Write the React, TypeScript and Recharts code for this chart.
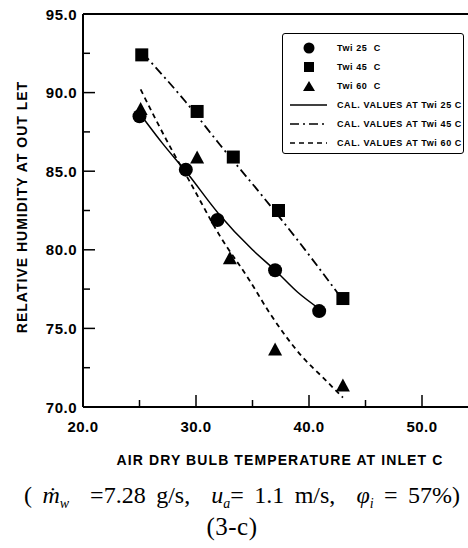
import { ComposedChart, Line, Scatter, XAxis, YAxis, ReferenceLine } from "recharts"

// measured outlet humidity, one array per water inlet temperature
const tw25 = [
  { x: 25.0, y: 88.5 },
  { x: 29.1, y: 85.1 },
  { x: 31.9, y: 81.9 },
  { x: 37.0, y: 78.7 },
  { x: 40.9, y: 76.1 },
]
const tw45 = [
  { x: 25.2, y: 92.4 },
  { x: 30.1, y: 88.8 },
  { x: 33.3, y: 85.9 },
  { x: 37.3, y: 82.5 },
  { x: 43.0, y: 76.9 },
]
const tw60 = [
  { x: 25.1, y: 88.9 },
  { x: 30.1, y: 85.8 },
  { x: 33.0, y: 79.4 },
  { x: 37.0, y: 73.6 },
  { x: 43.0, y: 71.3 },
]

// calculated curves
const cal25 = [
  { x: 25.3, y: 88.4 },
  { x: 27.0, y: 86.8 },
  { x: 29.2, y: 84.9 },
  { x: 32.0, y: 82.3 },
  { x: 35.0, y: 80.0 },
  { x: 37.0, y: 78.7 },
  { x: 39.0, y: 77.3 },
  { x: 41.0, y: 76.2 },
]
const cal45 = [
  { x: 25.3, y: 92.5 },
  { x: 29.1, y: 89.4 },
  { x: 32.1, y: 86.7 },
  { x: 35.9, y: 83.4 },
  { x: 38.9, y: 80.7 },
  { x: 43.0, y: 76.8 },
]
const cal60 = [
  { x: 25.1, y: 90.2 },
  { x: 27.9, y: 86.3 },
  { x: 29.4, y: 84.4 },
  { x: 32.1, y: 80.9 },
  { x: 34.7, y: 78.1 },
  { x: 36.5, y: 76.0 },
  { x: 39.4, y: 73.2 },
  { x: 41.2, y: 71.9 },
  { x: 43.0, y: 70.6 },
]

const xTicks = [20, 25, 30, 35, 40, 45, 50]
const yTicks = [70, 72.5, 75, 77.5, 80, 82.5, 85, 87.5, 90, 92.5, 95]

const legendItems = [
  { label: "Twi 25  C", kind: "circle" },
  { label: "Twi 45  C", kind: "square" },
  { label: "Twi 60  C", kind: "triangle" },
  { label: "CAL. VALUES AT Twi 25 C", kind: "solid" },
  { label: "CAL. VALUES AT Twi 45 C", kind: "dashdot" },
  { label: "CAL. VALUES AT Twi 60 C", kind: "dash" },
]

const SANS = "'Liberation Sans', Arial, sans-serif"
const SERIF = "'Liberation Serif', 'Times New Roman', serif"
const DASHDOT = "9 4 2 4"
const DASH = "5 4"

const circleShape = (p: any) => <circle cx={p.cx} cy={p.cy} r={7} fill="#000" />
const squareShape = (p: any) => <rect x={p.cx - 6.5} y={p.cy - 6.5} width={13} height={13} fill="#000" />
const triangleShape = (p: any) => (
  <polygon points={`${p.cx},${p.cy - 8} ${p.cx + 7},${p.cy + 5} ${p.cx - 7},${p.cy + 5}`} fill="#000" />
)

const XTick = ({ x, y, payload }: any) => {
  const major = payload.value % 10 === 0
  return (
    <g>
      <line x1={x} x2={x} y1={y} y2={y - (major ? 12 : 7)} stroke="#000" strokeWidth={1.5} />
      {major && (
        <text x={x} y={y + 25} textAnchor="middle" fontFamily={SANS} fontWeight="bold" fontSize={15} letterSpacing={0.5} fill="#000">
          {payload.value.toFixed(1)}
        </text>
      )}
    </g>
  )
}

const YTick = ({ x, y, payload }: any) => {
  const major = payload.value % 5 === 0
  return (
    <g>
      <line x1={x} x2={x + (major ? 12 : 7)} y1={y} y2={y} stroke="#000" strokeWidth={1.5} />
      {major && (
        <text x={x - 6} y={y + 5.5} textAnchor="end" fontFamily={SANS} fontWeight="bold" fontSize={15} letterSpacing={0.5} fill="#000">
          {payload.value.toFixed(1)}
        </text>
      )}
    </g>
  )
}

function LegendMark({ kind }: { kind: string }) {
  return (
    <svg width={40} height={14} style={{ display: "block" }}>
      {kind === "circle" && <circle cx={19} cy={7} r={5.5} fill="#000" />}
      {kind === "square" && <rect x={14} y={2} width={10} height={10} fill="#000" />}
      {kind === "triangle" && <polygon points="19,2 25,12 13,12" fill="#000" />}
      {kind === "solid" && <line x1={0} x2={37} y1={7} y2={7} stroke="#000" strokeWidth={1.5} />}
      {kind === "dashdot" && <line x1={0} x2={37} y1={7} y2={7} stroke="#000" strokeWidth={1.5} strokeDasharray={DASHDOT} />}
      {kind === "dash" && <line x1={0} x2={37} y1={7} y2={7} stroke="#000" strokeWidth={1.5} strokeDasharray={DASH} />}
    </svg>
  )
}

function LegendBox() {
  return (
    <div
      style={{
        position: "absolute",
        left: 282,
        top: 33,
        width: 182,
        height: 121,
        border: "1.5px solid #000",
        borderRadius: 3,
        background: "#fff",
        boxSizing: "border-box",
        padding: "4px 0 0 7px",
      }}
    >
      {legendItems.map((it) => (
        <div key={it.label} style={{ display: "flex", alignItems: "center", height: 19 }}>
          <LegendMark kind={it.kind} />
          <span
            style={{
              marginLeft: 7,
              fontFamily: SANS,
              fontWeight: "bold",
              fontSize: 9,
              whiteSpace: "pre",
              letterSpacing: 0.6,
            }}
          >
            {it.label}
          </span>
        </div>
      ))}
    </div>
  )
}

const subStyle = { fontSize: 14 }

export default function App() {
  return (
    <div
      style={{
        position: "fixed",
        left: 0,
        top: 0,
        width: 468,
        height: 548,
        overflow: "hidden",
        background: "#fff",
      }}
    >
      <ComposedChart width={530} height={548} margin={{ top: 14, right: 51.5, bottom: 140, left: 82 }}>
        <XAxis
          type="number"
          dataKey="x"
          domain={[20, 55]}
          ticks={xTicks}
          interval={0}
          tickSize={0}
          tickMargin={0}
          tick={<XTick />}
          height={1}
          axisLine={{ stroke: "#000", strokeWidth: 2 }}
          allowDataOverflow
        />
        <YAxis
          type="number"
          dataKey="y"
          domain={[70, 95]}
          ticks={yTicks}
          interval={0}
          tickSize={0}
          tickMargin={0}
          tick={<YTick />}
          width={1}
          axisLine={{ stroke: "#000", strokeWidth: 2 }}
          allowDataOverflow
        />
        <ReferenceLine y={95} stroke="#000" strokeWidth={2} />
        <Line data={cal25} dataKey="y" type="monotone" stroke="#000" strokeWidth={1.5} dot={false} isAnimationActive={false} />
        <Line data={cal45} dataKey="y" type="monotone" stroke="#000" strokeWidth={1.8} strokeDasharray={DASHDOT} dot={false} isAnimationActive={false} />
        <Line data={cal60} dataKey="y" type="monotone" stroke="#000" strokeWidth={1.8} strokeDasharray={DASH} dot={false} isAnimationActive={false} />
        <Scatter data={tw25} shape={circleShape} isAnimationActive={false} />
        <Scatter data={tw45} shape={squareShape} isAnimationActive={false} />
        <Scatter data={tw60} shape={triangleShape} isAnimationActive={false} />
      </ComposedChart>

      <LegendBox />

      <div
        style={{
          position: "absolute",
          left: 22,
          top: 207,
          transform: "translate(-50%, -50%) rotate(-90deg)",
          whiteSpace: "nowrap",
          fontFamily: SANS,
          fontWeight: "bold",
          fontSize: 14,
          letterSpacing: 1,
        }}
      >
        RELATIVE HUMIDITY AT OUT LET
      </div>

      <div
        style={{
          position: "absolute",
          left: 280,
          top: 460,
          transform: "translate(-50%, -50%)",
          whiteSpace: "nowrap",
          fontFamily: SANS,
          fontWeight: "bold",
          fontSize: 14,
          letterSpacing: 1.1,
        }}
      >
        AIR DRY BULB TEMPERATURE AT INLET C
      </div>

      <div
        style={{
          position: "absolute",
          left: 242,
          top: 497,
          transform: "translate(-50%, -50%)",
          whiteSpace: "pre",
          fontFamily: SERIF,
          fontSize: 24,
          wordSpacing: 4.5,
        }}
      >
        ( <i>ṁ</i>
        <sub style={subStyle}>
          <i>w</i>
        </sub>
        {"  "}=7.28 g/s,  <i>u</i>
        <sub style={subStyle}>
          <i>a</i>
        </sub>
        = 1.1 m/s,  <i>φ</i>
        <sub style={subStyle}>
          <i>i</i>
        </sub>{" "}
        = 57%)
      </div>

      <div
        style={{
          position: "absolute",
          left: 232,
          top: 527,
          transform: "translate(-50%, -50%)",
          whiteSpace: "nowrap",
          fontFamily: SERIF,
          fontSize: 25,
          letterSpacing: 0.5,
        }}
      >
        (3-c)
      </div>
    </div>
  )
}
